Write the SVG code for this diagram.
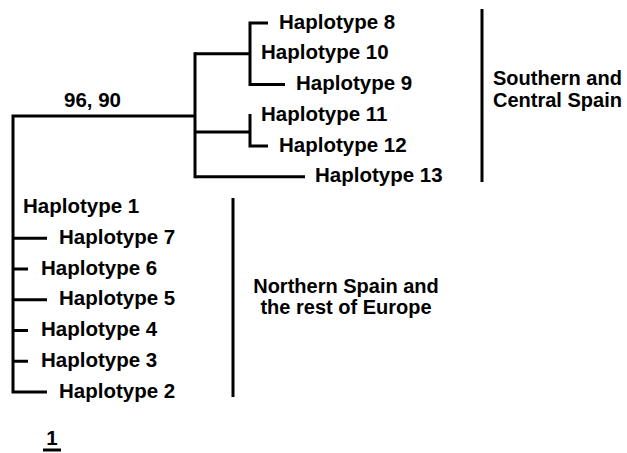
<svg xmlns="http://www.w3.org/2000/svg" width="627" height="453" viewBox="0 0 627 453">
<style>
.t{font-family:"Liberation Sans",Arial,Helvetica,sans-serif;font-weight:bold;font-size:20.5px;fill:#000}
.g{font-size:20px}
.e{fill:none;stroke:#000;stroke-width:3;stroke-linejoin:miter;stroke-linecap:butt}
</style>
<rect width="627" height="453" fill="#fff"/>
<g id="connectors">
<path class="e" d="M195,116 H13 V392 H47"/>
<path class="e" d="M195,52.25 V178.25"/>
<path class="e" d="M195,53.75 H250"/>
<path class="e" d="M268,23 H250 V84.5 H285"/>
<path class="e" d="M195,132 H250"/>
<path class="e" d="M250,114 V146 H268"/>
<path class="e" d="M195,176.75 H305"/>
<path class="e" d="M13,238.25 H47"/>
<path class="e" d="M13,269 H28"/>
<path class="e" d="M13,299.75 H47"/>
<path class="e" d="M13,330.5 H28"/>
<path class="e" d="M13,361.25 H28"/>
<path class="e" d="M482,9 V182"/>
<path class="e" d="M233,198 V397"/>
<path class="e" d="M43,450 H61"/>
</g>
<g id="support"><text class="t" x="64" y="107">96, 90</text></g>
<g id="hap8"><text class="t" x="279" y="28.5">Haplotype 8</text></g>
<g id="hap10"><text class="t" x="261" y="59.25">Haplotype 10</text></g>
<g id="hap9"><text class="t" x="296" y="90">Haplotype 9</text></g>
<g id="hap11"><text class="t" x="261" y="120.75">Haplotype 11</text></g>
<g id="hap12"><text class="t" x="279" y="151.5">Haplotype 12</text></g>
<g id="hap13"><text class="t" x="315" y="182.25">Haplotype 13</text></g>
<g id="hap1"><text class="t" x="23" y="213">Haplotype 1</text></g>
<g id="hap7"><text class="t" x="59" y="243.75">Haplotype 7</text></g>
<g id="hap6"><text class="t" x="41" y="274.5">Haplotype 6</text></g>
<g id="hap5"><text class="t" x="59" y="305.25">Haplotype 5</text></g>
<g id="hap4"><text class="t" x="41" y="336">Haplotype 4</text></g>
<g id="hap3"><text class="t" x="41" y="366.75">Haplotype 3</text></g>
<g id="hap2"><text class="t" x="59" y="397.5">Haplotype 2</text></g>
<g id="group-south"><text class="t g" x="493" y="85">Southern and</text><text class="t g" x="493" y="107">Central Spain</text></g>
<g id="group-north"><text class="t g" x="346" y="293" text-anchor="middle">Northern Spain and</text><text class="t g" x="346" y="314" text-anchor="middle">the rest of Europe</text></g>
<g id="scale"><text class="t" x="52" y="445" text-anchor="middle">1</text></g>
</svg>
